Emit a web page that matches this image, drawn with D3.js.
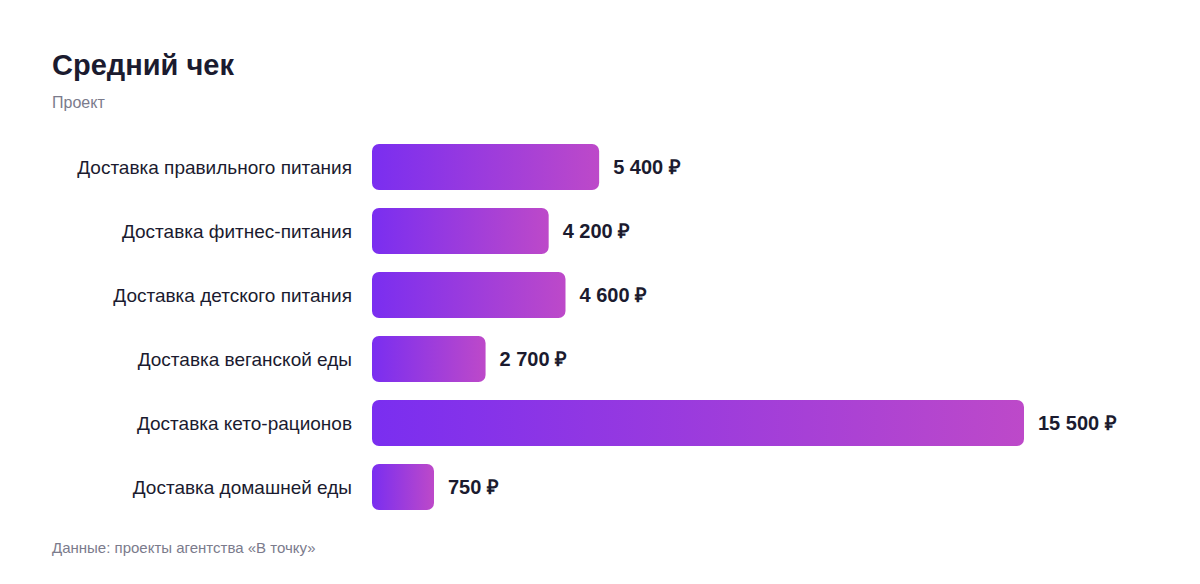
<!DOCTYPE html>
<html><head><meta charset="utf-8">
<script src="https://cdn.jsdelivr.net/npm/d3@7"></script>
<style>
html,body{margin:0;padding:0;background:#fff;}
svg{display:block;font-family:"Liberation Sans",Arial,Helvetica,sans-serif;}
</style></head>
<body>
<svg id="chart" width="1200" height="584"></svg>
<script>
const categories = ["Доставка правильного питания","Доставка фитнес-питания","Доставка детского питания","Доставка веганской еды","Доставка кето-рационов","Доставка домашней еды"];
const values = [5400, 4200, 4600, 2700, 15500, 750];
const valueLabels = ["5 400 ₽","4 200 ₽","4 600 ₽","2 700 ₽","15 500 ₽","750 ₽"];
const title = "Средний чек";
const subtitle = "Проект";
const source = "Данные: проекты агентства «В точку»";

(function(){
const svg = d3.select("#chart");
const left = 372, barMaxW = 652, minW = 62;
const topY = 135, rowH = 64;

const defs = svg.append("defs");
const grad = defs.append("linearGradient").attr("id","g").attr("x1","0").attr("x2","1").attr("y1","0").attr("y2","0");
grad.append("stop").attr("offset","0%").attr("stop-color","#7a2ef0");
grad.append("stop").attr("offset","100%").attr("stop-color","#bd49c9");

const x = d3.scaleLinear().domain([0, d3.max(values)]).range([0, barMaxW]);
const y = d3.scaleBand().domain(categories).range([topY, topY + rowH*categories.length]).paddingInner(18/64).paddingOuter(9/64);

svg.append("text").attr("x",52).attr("y",75).attr("fill","#1b1b2f").attr("font-size",29).attr("font-weight",700).text(title);
svg.append("text").attr("x",52).attr("y",108).attr("fill","#7b7b8c").attr("font-size",16).text(subtitle);

const g = svg.append("g");
categories.forEach((c,i)=>{
  const w = Math.max(minW, x(values[i]));
  g.append("rect").attr("x",left).attr("y",y(c)).attr("width",w).attr("height",y.bandwidth())
    .attr("rx",7).attr("fill","url(#g)");
  g.append("text").attr("x",352).attr("y",y(c)+y.bandwidth()/2).attr("dy","0.35em")
    .attr("text-anchor","end").attr("fill","#1b1b2f").attr("font-size",19).text(c);
  g.append("text").attr("x",left+w+14).attr("y",y(c)+y.bandwidth()/2).attr("dy","0.35em")
    .attr("fill","#1b1b2f").attr("font-size",20).attr("font-weight",700).text(valueLabels[i]);
});

svg.append("text").attr("x",52).attr("y",553).attr("fill","#7b7b8c").attr("font-size",15).text(source);
})();
</script>
</body></html>
